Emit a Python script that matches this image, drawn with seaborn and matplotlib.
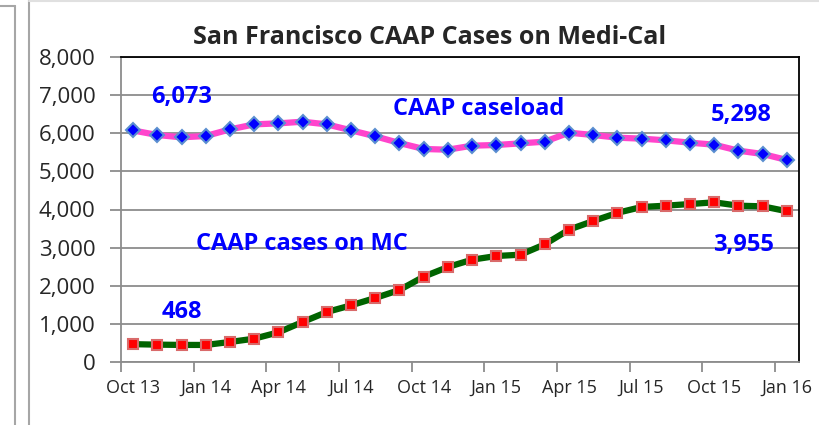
import numpy as np
import pandas as pd
import seaborn as sns
import matplotlib.pyplot as plt
from matplotlib.lines import Line2D
from matplotlib.ticker import FixedLocator, StrMethodFormatter

# monthly values, Oct 2013 .. Jan 2016
caseload = [6073, 5954, 5893, 5928, 6101, 6233, 6259, 6303, 6233, 6077,
            5920, 5744, 5587, 5569, 5674, 5692, 5735, 5779, 6015, 5954,
            5884, 5858, 5814, 5753, 5700, 5543, 5456, 5298]
on_mc = [468, 455, 448, 447, 525, 612, 778, 1049, 1311, 1486,
         1679, 1889, 2238, 2492, 2684, 2780, 2815, 3086, 3471, 3698,
         3912, 4066, 4100, 4144, 4188, 4100, 4083, 3955]
tick_labels = ["Oct 13", "Jan 14", "Apr 14", "Jul 14", "Oct 14", "Jan 15",
               "Apr 15", "Jul 15", "Oct 15", "Jan 16"]

df = pd.DataFrame({"month": np.arange(len(caseload)),
                   "caseload": caseload, "on_mc": on_mc})

sns.set_style("white")
plt.rcParams['font.family'] = ['Open Sans', 'DejaVu Sans']

fig = plt.figure(figsize=(8.19, 4.25), dpi=100)
ax = fig.add_axes([121/819, 63/425, 678/819, 305/425])

sns.lineplot(data=df, x="month", y="caseload", ax=ax, color="#FF44CC",
             linewidth=4.5, marker="D", markersize=7,
             markerfacecolor="#0000FF", markeredgecolor="#5B8FD0",
             markeredgewidth=1.5, zorder=3)
sns.lineplot(data=df, x="month", y="on_mc", ax=ax, color="#006400",
             linewidth=4.5, marker="s", markersize=7.5,
             markerfacecolor="#FF0000", markeredgecolor="#D96A6A",
             markeredgewidth=1.5, zorder=3)

ax.set_xlim(-0.5, 27.5)
ax.set_ylim(0, 8000)
ax.set_xlabel("")
ax.set_ylabel("")

# y axis
ax.set_yticks(np.arange(0, 8001, 1000))
ax.yaxis.set_major_formatter(StrMethodFormatter("{x:,.0f}"))
ax.yaxis.grid(True, color="#8C8C8C", linewidth=1.3)
ax.tick_params(axis="y", labelsize=16, length=8, width=1.3, color="#8C8C8C",
               pad=10.5, left=True)

# x axis: labels on the month, ticks between months
ax.set_xticks(np.arange(0, 28, 3))
ax.set_xticklabels(tick_labels)
ax.xaxis.set_minor_locator(FixedLocator(np.arange(-0.5, 28, 3)))
ax.tick_params(axis="x", which="major", labelsize=13, length=0, pad=12)
ax.tick_params(axis="x", which="minor", length=7, width=1.3,
               color="#8C8C8C", bottom=True)

for side in ["left", "bottom"]:
    ax.spines[side].set_color("#8C8C8C")
    ax.spines[side].set_linewidth(1.3)
for side in ["top", "right"]:
    ax.spines[side].set_color("black")
    ax.spines[side].set_linewidth(1.3)

# annotations
blue = "#0000FF"
ax.text(2.0, 6950, "6,073", color=blue, fontsize=17, fontweight="bold",
        ha="center", va="center")
ax.text(14.25, 6640, "CAAP caseload", color=blue, fontsize=17,
        fontweight="bold", ha="center", va="center")
ax.text(25.1, 6480, "5,298", color=blue, fontsize=17, fontweight="bold",
        ha="center", va="center")
ax.text(6.95, 3095, "CAAP cases on MC", color=blue, fontsize=17,
        fontweight="bold", ha="center", va="center")
ax.text(2.0, 1310, "468", color=blue, fontsize=17, fontweight="bold",
        ha="center", va="center")
ax.text(25.2, 3070, "3,955", color=blue, fontsize=17, fontweight="bold",
        ha="center", va="center")

fig.text(430/819, 1 - 38/425, "San Francisco CAAP Cases on Medi-Cal",
         fontsize=18, fontweight="bold", ha="center", va="center")

# frame lines from the surrounding window
def px_line(xs, ys, color, lw=1.5):
    fig.add_artist(Line2D([x/819 for x in xs], [1 - y/425 for y in ys],
                          color=color, linewidth=lw))

px_line([0, 14.5], [6, 6], "#A6A6A6")
px_line([14.5, 14.5], [6, 425], "#A6A6A6")
px_line([28.5, 28.5], [0, 425], "#A6A6A6")
px_line([28.5, 819], [1, 1], "#E0E0E0")

fig.savefig("out.png", dpi=100)
